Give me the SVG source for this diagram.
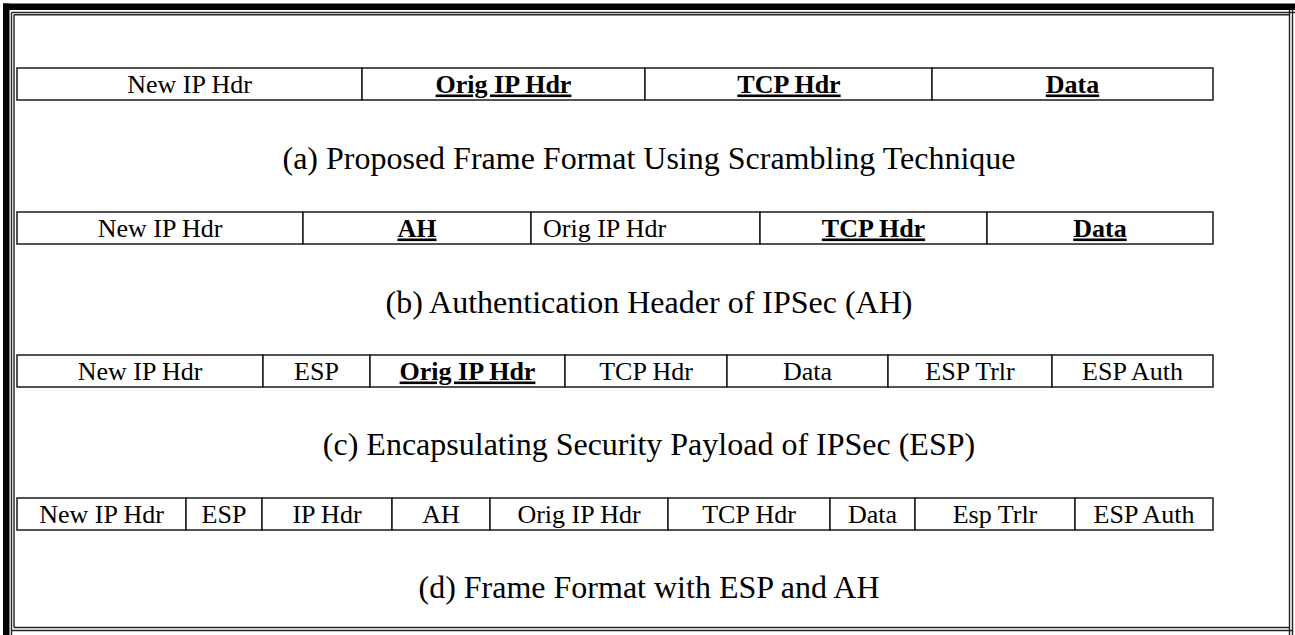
<svg xmlns="http://www.w3.org/2000/svg" width="1295" height="635" viewBox="0 0 1295 635">
  <style>
    .cell { fill: #ffffff; stroke: #1a1a1a; stroke-width: 1.5; }
    .lbl { font-family: "Liberation Serif", "Times New Roman", serif; font-size: 26px; fill: #000; text-anchor: middle; }
    .lbl.left { text-anchor: start; }
    .em { font-weight: bold; text-decoration: underline; }
    .cap { font-family: "Liberation Serif", "Times New Roman", serif; font-size: 32px; fill: #000; text-anchor: middle; }
    .frame { fill: none; stroke: #222; stroke-width: 1.4; }
  </style>

  <rect width="1295" height="635" fill="#ffffff"/>

  <!-- page frame: heavy shadow band on top/left, double rule all round -->
  <g id="frame">
    <rect x="3" y="3.5" width="1292" height="6.5" fill="#000"/>
    <rect x="3" y="3.5" width="6.5" height="631.5" fill="#000"/>
    <line class="frame" x1="11.5" y1="12.5" x2="1295" y2="12.5"/>
    <line class="frame" x1="14" y1="14.8" x2="1289.5" y2="14.8"/>
    <line class="frame" x1="11.5" y1="12.5" x2="11.5" y2="635"/>
    <line class="frame" x1="14" y1="14.8" x2="14" y2="627.5"/>
    <line class="frame" x1="1289.5" y1="10" x2="1289.5" y2="635"/>
    <line class="frame" x1="1292.5" y1="10" x2="1292.5" y2="635"/>
    <line class="frame" x1="11.5" y1="630.5" x2="1292.5" y2="630.5"/>
    <line class="frame" x1="14" y1="627.5" x2="1289.5" y2="627.5"/>
  </g>

  <!-- (a) scrambled frame -->
  <g id="row-a">
    <g id="a-new-ip-hdr"><rect class="cell" x="17" y="68" width="345" height="32"/><text class="lbl" x="189.5" y="92.5">New IP Hdr</text></g>
    <g id="a-orig-ip-hdr"><rect class="cell" x="362" y="68" width="283" height="32"/><text class="lbl em" x="503.5" y="92.5">Orig IP Hdr</text></g>
    <g id="a-tcp-hdr"><rect class="cell" x="645" y="68" width="287" height="32"/><text class="lbl em" x="789" y="92.5">TCP Hdr</text></g>
    <g id="a-data"><rect class="cell" x="932" y="68" width="281" height="32"/><text class="lbl em" x="1072.5" y="92.5">Data</text></g>
  </g>
  <text id="cap-a" class="cap" x="649" y="169">(a) Proposed Frame Format Using Scrambling Technique</text>

  <!-- (b) AH -->
  <g id="row-b">
    <g id="b-new-ip-hdr"><rect class="cell" x="17" y="212" width="286" height="32"/><text class="lbl" x="160" y="236.5">New IP Hdr</text></g>
    <g id="b-ah"><rect class="cell" x="303" y="212" width="228" height="32"/><text class="lbl em" x="417" y="236.5">AH</text></g>
    <g id="b-orig-ip-hdr"><rect class="cell" x="531" y="212" width="229" height="32"/><text class="lbl left" x="543" y="236.5">Orig IP Hdr</text></g>
    <g id="b-tcp-hdr"><rect class="cell" x="760" y="212" width="227" height="32"/><text class="lbl em" x="873.5" y="236.5">TCP Hdr</text></g>
    <g id="b-data"><rect class="cell" x="987" y="212" width="226" height="32"/><text class="lbl em" x="1100" y="236.5">Data</text></g>
  </g>
  <text id="cap-b" class="cap" x="649" y="313">(b) Authentication Header of IPSec (AH)</text>

  <!-- (c) ESP -->
  <g id="row-c">
    <g id="c-new-ip-hdr"><rect class="cell" x="17" y="355" width="246" height="32"/><text class="lbl" x="140" y="379.5">New IP Hdr</text></g>
    <g id="c-esp"><rect class="cell" x="263" y="355" width="107" height="32"/><text class="lbl" x="316.5" y="379.5">ESP</text></g>
    <g id="c-orig-ip-hdr"><rect class="cell" x="370" y="355" width="195" height="32"/><text class="lbl em" x="467.5" y="379.5">Orig IP Hdr</text></g>
    <g id="c-tcp-hdr"><rect class="cell" x="565" y="355" width="162" height="32"/><text class="lbl" x="646" y="379.5">TCP Hdr</text></g>
    <g id="c-data"><rect class="cell" x="727" y="355" width="161" height="32"/><text class="lbl" x="807.5" y="379.5">Data</text></g>
    <g id="c-esp-trlr"><rect class="cell" x="888" y="355" width="164" height="32"/><text class="lbl" x="970" y="379.5">ESP Trlr</text></g>
    <g id="c-esp-auth"><rect class="cell" x="1052" y="355" width="161" height="32"/><text class="lbl" x="1132.5" y="379.5">ESP Auth</text></g>
  </g>
  <text id="cap-c" class="cap" x="649" y="455">(c) Encapsulating Security Payload of IPSec (ESP)</text>

  <!-- (d) ESP + AH -->
  <g id="row-d">
    <g id="d-new-ip-hdr"><rect class="cell" x="17" y="498" width="169" height="32"/><text class="lbl" x="101.5" y="522.5">New IP Hdr</text></g>
    <g id="d-esp"><rect class="cell" x="186" y="498" width="76" height="32"/><text class="lbl" x="224" y="522.5">ESP</text></g>
    <g id="d-ip-hdr"><rect class="cell" x="262" y="498" width="130" height="32"/><text class="lbl" x="327" y="522.5">IP Hdr</text></g>
    <g id="d-ah"><rect class="cell" x="392" y="498" width="98" height="32"/><text class="lbl" x="441" y="522.5">AH</text></g>
    <g id="d-orig-ip-hdr"><rect class="cell" x="490" y="498" width="178" height="32"/><text class="lbl" x="579" y="522.5">Orig IP Hdr</text></g>
    <g id="d-tcp-hdr"><rect class="cell" x="668" y="498" width="162" height="32"/><text class="lbl" x="749" y="522.5">TCP Hdr</text></g>
    <g id="d-data"><rect class="cell" x="830" y="498" width="85" height="32"/><text class="lbl" x="872.5" y="522.5">Data</text></g>
    <g id="d-esp-trlr"><rect class="cell" x="915" y="498" width="160" height="32"/><text class="lbl" x="995" y="522.5">Esp Trlr</text></g>
    <g id="d-esp-auth"><rect class="cell" x="1075" y="498" width="138" height="32"/><text class="lbl" x="1144" y="522.5">ESP Auth</text></g>
  </g>
  <text id="cap-d" class="cap" x="649" y="598">(d) Frame Format with ESP and AH</text>

  <!-- no connectors in this figure -->
  <g id="connectors"/>
</svg>
